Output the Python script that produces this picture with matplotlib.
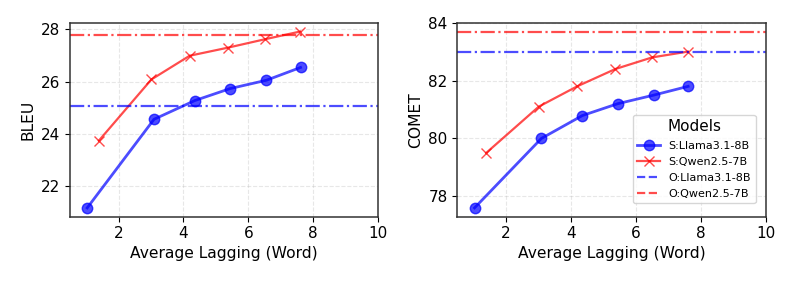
import numpy as np
import matplotlib
matplotlib.use("Agg")
import matplotlib.pyplot as plt
from matplotlib.lines import Line2D

llama_color = "blue"
qwen_color = "red"

# simultaneous results (Average Lagging in words)
llama_al = [1.03, 3.09, 4.35, 5.44, 6.56, 7.61]
qwen_al = [1.39, 3.01, 4.19, 5.37, 6.50, 7.60]

llama_bleu = [21.15, 24.55, 25.27, 25.73, 26.05, 26.54]
qwen_bleu = [23.73, 26.08, 26.99, 27.30, 27.62, 27.92]
llama_comet = [77.60, 80.00, 80.79, 81.20, 81.50, 81.80]
qwen_comet = [79.50, 81.10, 81.80, 82.40, 82.80, 83.00]

# offline reference scores
offline_bleu = {"llama": 25.06, "qwen": 27.77}
offline_comet = {"llama": 83.00, "qwen": 83.69}

fig = plt.figure(figsize=(7.93, 2.83), dpi=100)
ax1 = fig.add_axes([0.0883, 0.2343, 0.3884, 0.6855])
ax2 = fig.add_axes([0.5767, 0.2343, 0.3889, 0.6855])


def draw(ax, llama_y, qwen_y, offline, ylabel):
    ax.plot(llama_al, llama_y, color=llama_color, marker="o", markersize=7.5,
            linewidth=2, alpha=0.7, label="S:Llama3.1-8B")
    ax.plot(qwen_al, qwen_y, color=qwen_color, marker="x", markersize=7.5,
            linewidth=1.6, alpha=0.7, label="S:Qwen2.5-7B")
    ax.axhline(offline["llama"], color=llama_color, linestyle="-.", linewidth=1.6, alpha=0.7)
    ax.axhline(offline["qwen"], color=qwen_color, linestyle="-.", linewidth=1.6, alpha=0.7)
    ax.set_xlabel("Average Lagging (Word)", fontsize=11.2, labelpad=3)
    ax.set_ylabel(ylabel, fontsize=11.2)
    ax.set_xlim(0.5, 10)
    ax.set_xticks([2, 4, 6, 8, 10])
    ax.tick_params(labelsize=11)
    for s in ax.spines.values():
        s.set_color("#333333")
        s.set_linewidth(1.1)
    ax.grid(True, linestyle="--", alpha=0.3)


draw(ax1, llama_bleu, qwen_bleu, offline_bleu, "BLEU")
ax1.set_yticks([22, 24, 26, 28])
draw(ax2, llama_comet, qwen_comet, offline_comet, "COMET")
ax2.set_yticks([78, 80, 82, 84])

handles = [
    Line2D([], [], color=llama_color, marker="o", markersize=7.5, linewidth=2, alpha=0.7),
    Line2D([], [], color=qwen_color, marker="x", markersize=7.5, linewidth=1.6, alpha=0.7),
    Line2D([], [], color=llama_color, linestyle="--", linewidth=1.6, alpha=0.7),
    Line2D([], [], color=qwen_color, linestyle="--", linewidth=1.6, alpha=0.7),
]
labels = ["S:Llama3.1-8B", "S:Qwen2.5-7B", "O:Llama3.1-8B", "O:Qwen2.5-7B"]
ax2.legend(handles, labels, title="Models", fontsize=8, title_fontsize=11,
           loc="lower right", bbox_to_anchor=(0.985, 0.04), labelspacing=0.55)

fig.savefig("out.png", dpi=100)
